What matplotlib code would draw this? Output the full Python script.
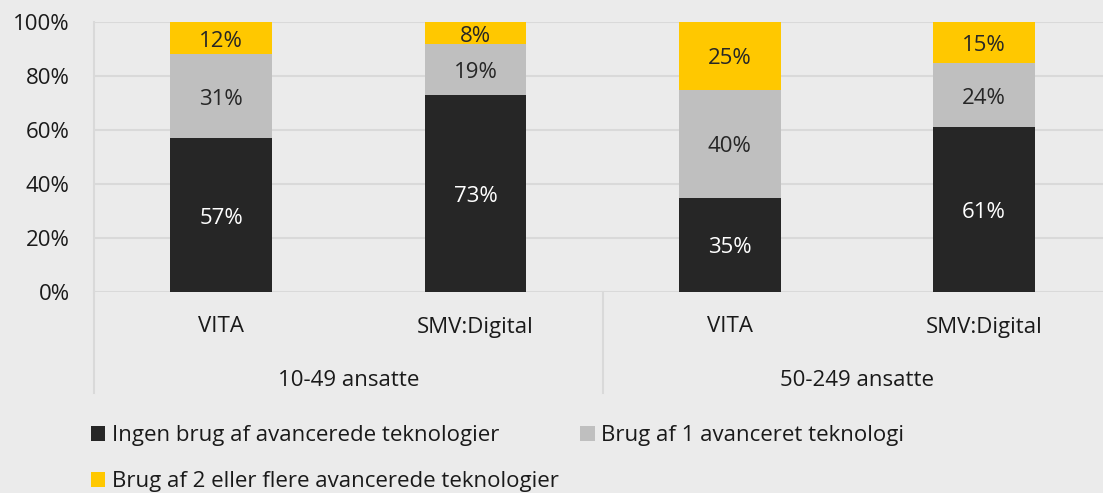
import matplotlib.pyplot as plt
import numpy as np

groups = ["10-49 ansatte", "50-249 ansatte"]
sources = ["VITA", "SMV:Digital", "VITA", "SMV:Digital"]
series_names = ["Ingen brug af avancerede teknologier",
                "Brug af 1 avanceret teknologi",
                "Brug af 2 eller flere avancerede teknologier"]
ingen = [57, 73, 35, 61]
en = [31, 19, 40, 24]
flere = [12, 8, 25, 15]

colors = ["#262626", "#bfbfbf", "#ffc800"]
text_colors = ["white", "#262626", "#262626"]
bg = "#ebebeb"
grid = "#d9d9d9"
fs = 16

plt.rcParams['font.family'] = ['Open Sans', 'DejaVu Sans']

W, H = 1103, 493
fig = plt.figure(figsize=(W / 100, H / 100), dpi=100, facecolor=bg)
ax = fig.add_axes([94 / W, (H - 292) / H, (W - 94) / W, 270 / H])
ax.set_facecolor(bg)

x = np.arange(len(sources))
bottom = np.zeros(len(sources))
bars = []
for vals, c, tc, name in zip([ingen, en, flere], colors, text_colors, series_names):
    vals = np.array(vals, dtype=float)
    bars.append(ax.bar(x, vals, 0.4, bottom=bottom, color=c, label=name, zorder=3))
    for xi, b, v in zip(x, bottom, vals):
        ax.text(xi, b + v / 2 - 1.2, f"{int(v)}%", ha="center", va="center",
                color=tc, fontsize=fs, zorder=4)
    bottom += vals

ax.set_xlim(-0.5, 3 + (W - 984) / 254.5)
ax.set_ylim(0, 100)
ax.set_yticks(range(0, 101, 20))
ax.set_yticklabels([f"{v}%" for v in range(0, 101, 20)], fontsize=fs, color="#1a1a1a")
ax.tick_params(axis="y", length=0, pad=17.5)
ax.set_xticks([])
ax.yaxis.grid(True, color=grid, linewidth=1.5, zorder=0)
for s in ["top", "right", "bottom"]:
    ax.spines[s].set_visible(False)
ax.spines["left"].set_color(grid)
ax.spines["left"].set_linewidth(1.5)

# category and group labels below the axis
trans = ax.get_xaxis_transform()
for xi, s in zip(x, sources):
    ax.text(xi, -(327 - 292) / 270, s, transform=trans, ha="center", va="center",
            fontsize=fs, color="#1a1a1a")
for gi, g in enumerate(groups):
    ax.text(2 * gi + 0.5, -(380 - 292) / 270, g, transform=trans, ha="center",
            va="center", fontsize=fs, color="#1a1a1a")
for xd in [-0.5, 1.5]:
    ax.plot([xd, xd], [0, -(393 - 292) / 270], transform=trans, color=grid,
            linewidth=1.5, clip_on=False)

# legend: row 1 = first two series, row 2 = third
order = [0, 2, 1]
fig.legend([bars[i] for i in order], [series_names[i] for i in order],
           loc="upper left", bbox_to_anchor=(71 / W, 1 - 405 / H),
           ncol=2, frameon=False, fontsize=fs, handlelength=0.65, handleheight=0.65,
           handletextpad=0.3, columnspacing=0.95, labelspacing=1.12, labelcolor="#1a1a1a")

fig.savefig("out.png", dpi=100, facecolor=bg)
